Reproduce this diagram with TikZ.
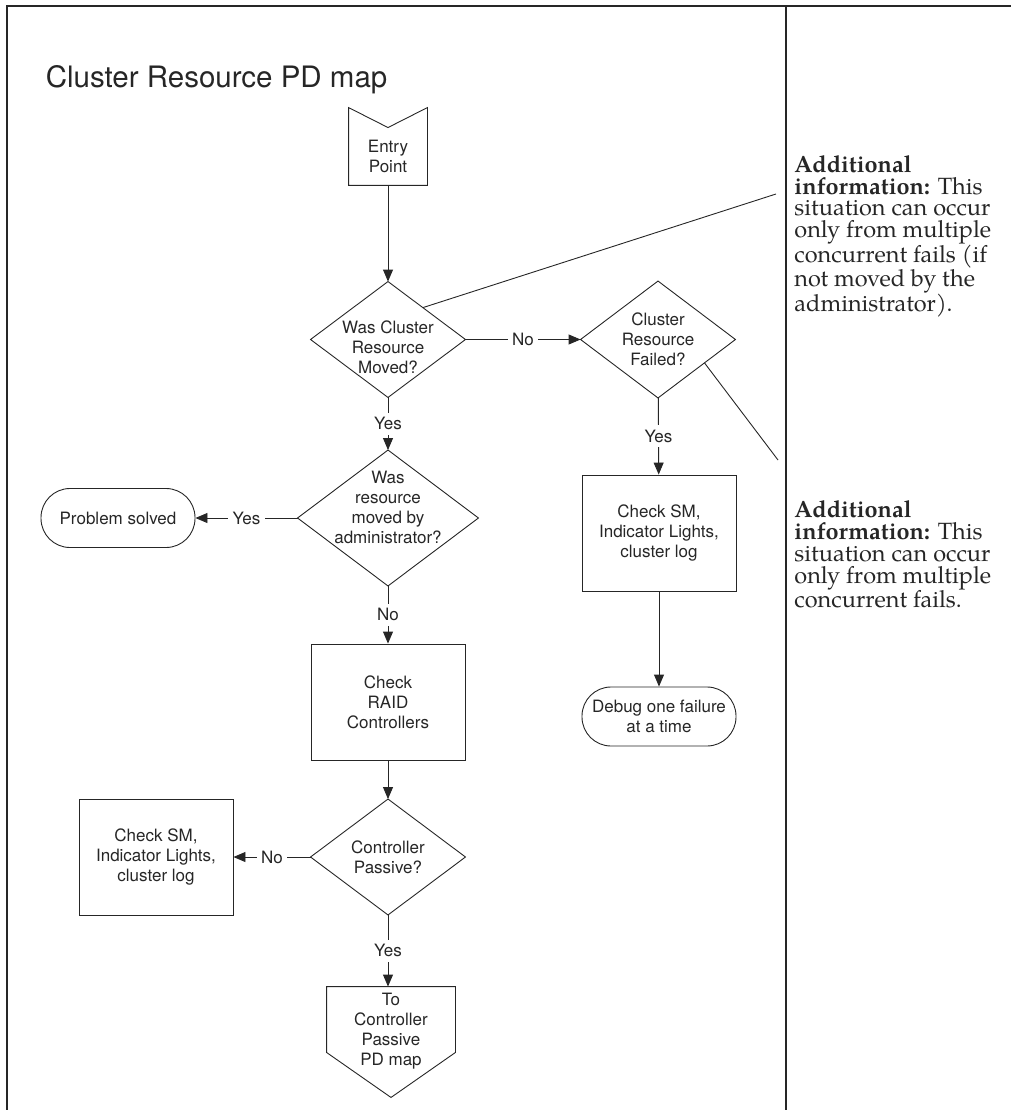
\documentclass[tikz,border=0pt]{standalone}
\usepackage{fontspec}
\setsansfont{TeX Gyre Heros}
\newfontfamily\notefont{texgyrepagella}[Extension=.otf,UprightFont=*-regular,BoldFont=*-bold]
\usetikzlibrary{arrows.meta,calc}

\begin{document}
\begin{tikzpicture}[x=1pt,y=-1pt,>={Triangle[length=12pt,width=10pt]},line width=0.9pt,color=black!85,
  every node/.style={font=\sffamily\fontsize{17}{20}\selectfont,align=center},
  flow node/.style={rectangle,minimum width=154pt,minimum height=116pt,inner sep=0pt},
  box node/.style={flow node,draw},
  end node/.style={rectangle,rounded corners=29pt,draw,minimum width=154pt,minimum height=59pt,inner sep=0pt},
  label node/.style={fill=white,inner sep=4.5pt},
  note node/.style={anchor=north west,align=left,inner sep=0pt,font=\notefont\fontsize{23.5}{21.7}\selectfont}]
\useasboundingbox (0,0) rectangle (1011,1110);
\draw [line width=1.8pt] (1011,6) -- (7,6) -- (7,1110);
\draw [line width=1.8pt] (786,6) -- (786,1110);
\node [anchor=base west,font=\sffamily\fontsize{29.5}{34}\selectfont] (title) at (42,88) {Cluster Resource PD map};
\node [flow node,minimum width=78pt,minimum height=57pt] (entry) at (388,156.5) {Entry\\Point};
\node [flow node,minimum height=115pt,label={[yshift=-8pt]center:{Was Cluster\\Resource\\Moved?}}] (moved) at (388,339.5) {};
\node [flow node] (failed) at (658,339.5) {Cluster\\Resource\\Failed?};
\node [flow node,minimum width=180pt,minimum height=135pt,label={[yshift=11pt]center:{Was\\resource\\moved by\\administrator?}}] (byadmin) at (388,518) {};
\node [end node] (solved) at (118,518) {Problem solved};
\node [box node] (raid) at (388,702) {Check\\RAID\\Controllers};
\node [flow node,minimum height=115pt] (passive) at (388,857) {Controller\\Passive?};
\node [box node] (checkleft) at (156,857) {Check SM,\\Indicator Lights,\\cluster log};
\node [box node] (checkright) at (659,533) {Check SM,\\Indicator Lights,\\cluster log};
\node [end node] (debug) at (659,716.5) {Debug one failure\\at a time};
\node [flow node,minimum width=128pt,minimum height=88pt] (topassive) at (391,1031) {To\\Controller\\Passive\\PD map};
\node [note node] (infomoved) at (794,155) {\textbf{Additional}\\\textbf{information:} This\\situation can occur\\only from multiple\\concurrent fails (if\\not moved by the\\administrator).};
\node [note node] (infofailed) at (794,500.6) {\textbf{Additional}\\\textbf{information:} This\\situation can occur\\only from multiple\\concurrent fails.};
\coordinate (note1) at (776,194);
\coordinate (note2) at (778,460);

\foreach \d in {moved,failed,byadmin,passive}
  \draw (\d.north) -- (\d.east) -- (\d.south) -- (\d.west) -- cycle;
\draw (entry.south west) -- ([yshift=20pt]entry.north west) -- (entry.north) -- ([yshift=20pt]entry.north east) -- (entry.south east) -- cycle;
\draw (topassive.north west) -- (topassive.north east) -- ([yshift=23pt]topassive.south east) -- ([yshift=-22pt]topassive.south) -- ([yshift=23pt]topassive.south west) -- cycle;

\draw [->] (entry) -- (moved);
\draw [->] (moved) edge node [label node] {No} (failed);
\draw [->] (moved) -- node [label node] {Yes} (byadmin);
\draw [->] (byadmin) -- node [label node] {Yes} (solved);
\draw [->] (byadmin) -- node [label node] {No} (raid);
\draw [->] (raid) -- (passive);
\draw [->] (passive) -- node [label node] {No} (checkleft);
\draw [->] (passive.south) -- node [label node] {Yes} (passive.south |- topassive.north);
\draw [->] (failed) -- node [label node] {Yes} (checkright);
\draw [->] (checkright) -- (debug);
\draw ($(moved.north)!0.45!(moved.east)$) -- (note1);
\draw ($(failed.east)!0.4!(failed.south)$) -- (note2);
\end{tikzpicture}
\end{document}
